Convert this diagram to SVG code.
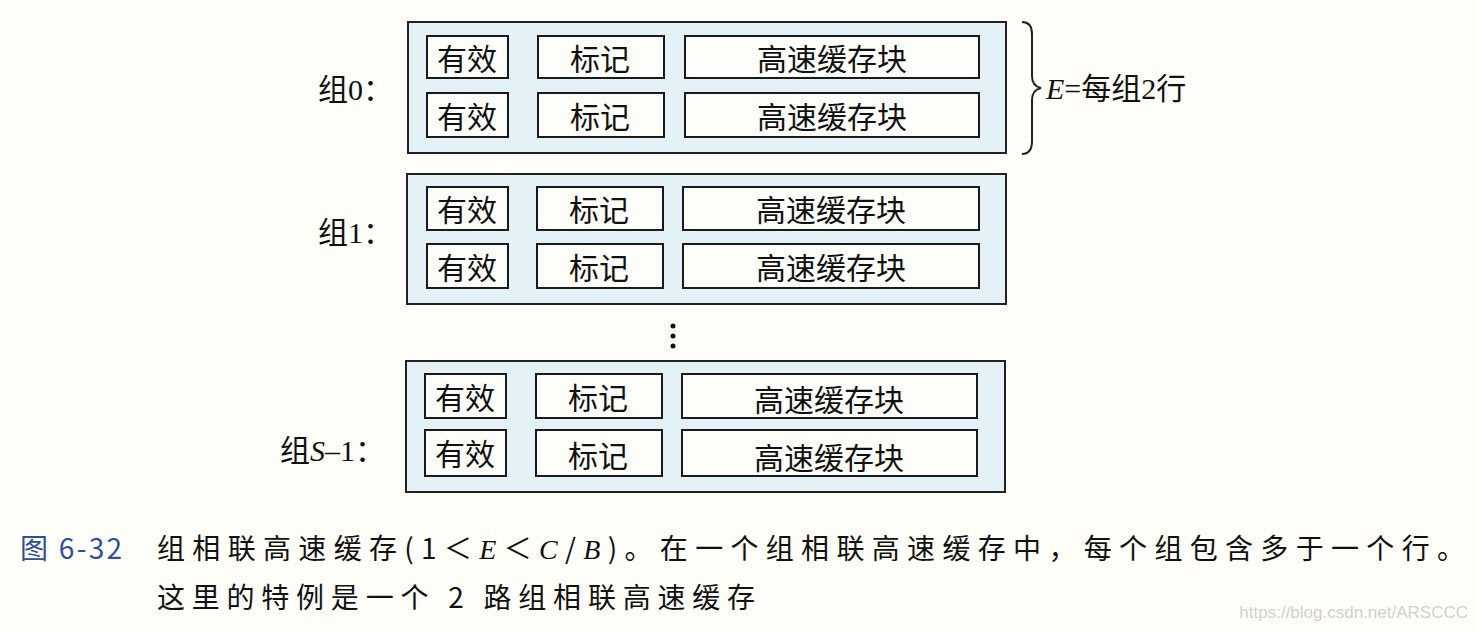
<svg xmlns="http://www.w3.org/2000/svg" width="1477" height="632" viewBox="0 0 1477 632">
<style>
.set{fill:#e4f2f8;stroke:#222;stroke-width:2}
.cell{fill:#fdfdf9;stroke:#1a1a1a;stroke-width:2}
.t{font-family:"Noto Sans CJK SC",sans-serif;font-size:30px;fill:#111;text-anchor:middle;dominant-baseline:central}
.lab{font-family:"Liberation Serif","Noto Sans CJK SC",serif;font-size:30px;fill:#111;dominant-baseline:central}
.cap{font-family:"Noto Sans CJK SC",sans-serif;font-size:28px;fill:#111}
</style>
<rect width="1477" height="632" fill="#fffef8"/>
<g id="set0">
<rect class="set" x="408" y="22" width="598" height="131"/>
<rect class="cell" x="427" y="36" width="81" height="42"/><text class="t" x="467" y="57">有效</text>
<rect class="cell" x="538" y="36" width="126" height="42"/><text class="t" x="600" y="57">标记</text>
<rect class="cell" x="685" y="36" width="294" height="42"/><text class="t" x="832" y="57">高速缓存块</text>
<rect class="cell" x="427" y="93" width="81" height="44"/><text class="t" x="467" y="115">有效</text>
<rect class="cell" x="538" y="93" width="126" height="44"/><text class="t" x="600" y="115">标记</text>
<rect class="cell" x="685" y="93" width="294" height="44"/><text class="t" x="832" y="115">高速缓存块</text>
<text class="lab" x="318" y="89">组0：</text>
</g>
<g id="set1">
<rect class="set" x="407" y="174" width="599" height="130"/>
<rect class="cell" x="427" y="187" width="81" height="43"/><text class="t" x="467" y="208">有效</text>
<rect class="cell" x="537" y="187" width="126" height="43"/><text class="t" x="599" y="208">标记</text>
<rect class="cell" x="683" y="187" width="296" height="43"/><text class="t" x="831" y="208">高速缓存块</text>
<rect class="cell" x="427" y="244" width="81" height="44"/><text class="t" x="467" y="266">有效</text>
<rect class="cell" x="537" y="244" width="126" height="44"/><text class="t" x="599" y="266">标记</text>
<rect class="cell" x="683" y="244" width="296" height="44"/><text class="t" x="831" y="266">高速缓存块</text>
<text class="lab" x="318" y="232">组1：</text>
</g>
<g id="dots" fill="#111">
<circle cx="673" cy="326" r="2.5"/><circle cx="673" cy="336" r="2.5"/><circle cx="673" cy="346" r="2.5"/>
</g>
<g id="setS1">
<rect class="set" x="406" y="361" width="599" height="131"/>
<rect class="cell" x="425" y="374" width="81" height="44"/><text class="t" x="465" y="396">有效</text>
<rect class="cell" x="536" y="374" width="126" height="44"/><text class="t" x="598" y="396">标记</text>
<rect class="cell" x="682" y="374" width="295" height="44"/><text class="t" x="829" y="398">高速缓存块</text>
<rect class="cell" x="425" y="430" width="81" height="46"/><text class="t" x="465" y="452">有效</text>
<rect class="cell" x="536" y="430" width="126" height="46"/><text class="t" x="598" y="454">标记</text>
<rect class="cell" x="682" y="430" width="295" height="46"/><text class="t" x="829" y="456">高速缓存块</text>
<text class="lab" x="280" y="450">组<tspan font-style="italic">S</tspan>–1：</text>
</g>
<g id="connectors">
<path d="M1022,22 Q1032,22 1032,34 L1032,76 Q1032,86 1041,88 Q1032,90 1032,100 L1032,141 Q1032,154 1022,154" fill="none" stroke="#222" stroke-width="2"/>
</g>
<g id="brace-label">
<text class="lab" x="1046" y="88"><tspan font-style="italic">E</tspan>=每组2行</text>
</g>
<g id="caption">
<text class="cap" x="20" y="559" style="fill:#2d4f9c" textLength="102" lengthAdjust="spacing">图 6-32</text>
<text class="cap" x="157" y="559" textLength="1308" lengthAdjust="spacing">组相联高速缓存(1＜<tspan font-family="Liberation Serif" font-style="italic">E</tspan>＜<tspan font-family="Liberation Serif" font-style="italic">C</tspan>/<tspan font-family="Liberation Serif" font-style="italic">B</tspan>)。在一个组相联高速缓存中，每个组包含多于一个行。</text>
<text class="cap" x="157" y="608" textLength="598" lengthAdjust="spacing">这里的特例是一个 2 路组相联高速缓存</text>
</g>
<text x="1468" y="618" text-anchor="end" font-family="Liberation Sans, sans-serif" font-size="17" fill="#d0d0d0">https://blog.csdn.net/ARSCCC</text>
</svg>
